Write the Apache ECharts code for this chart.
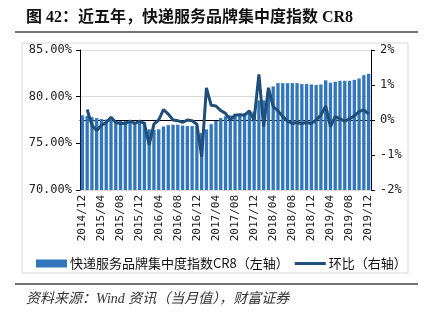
<!DOCTYPE html>
<html><head><meta charset="utf-8">
<script src="https://cdn.jsdelivr.net/npm/echarts@6/dist/echarts.min.js"></script>
<style>html,body{margin:0;padding:0;background:#fff}#c{width:425px;height:323px}</style>
</head><body><div id="c"></div>
<script>
const categories = (function(){
  const out=[];
  out.push('2014/12');
  for(let y=2015;y<=2019;y++){for(let m=1;m<=12;m++){out.push(y+'/'+(m<10?'0'+m:m));}}
  return out;
})();
const cr8 = [78.0,77.95,77.8,77.7,77.6,77.55,77.5,77.4,77.4,77.4,77.4,77.3,77.35,77.3,
  76.5,76.45,76.5,76.8,76.95,77.0,77.0,76.9,76.85,76.85,76.85,76.1,76.5,77.05,77.4,
  77.7,77.9,78.0,78.1,78.2,78.2,78.3,78.4,79.6,79.6,80.6,81.1,81.45,81.45,81.45,81.45,81.45,
  81.35,81.35,81.3,81.25,81.3,81.75,81.5,81.6,81.7,81.7,81.7,81.8,81.95,82.3,82.45];
const mom = [null,0.30,-0.15,-0.30,-0.15,-0.07,0.08,-0.07,-0.10,-0.10,-0.03,-0.10,-0.03,-0.10,
  -0.71,-0.12,0.0,0.30,0.17,0.0,-0.02,-0.07,0.0,-0.02,-0.12,-1.05,0.92,0.42,0.40,
  0.27,0.19,0.0,0.14,0.14,0.14,0.26,0.0,1.30,-0.19,0.92,0.38,0.26,0.10,-0.03,-0.10,-0.07,
  -0.10,-0.07,-0.10,0.0,0.14,0.40,-0.19,0.10,0.03,-0.03,0.03,0.12,0.24,0.29,0.17];
const leftTicks = [70,75,80,85];
const rightTicks = [-2,-1,0,1,2];
const barName = '快递服务品牌集中度指数CR8（左轴）';
const lineName = '环比（右轴）';
const titleText = '图 42：近五年，快递服务品牌集中度指数 CR8';
const sourceText = '资料来源：Wind 资讯（当月值），财富证券';

const chart = echarts.init(document.getElementById('c'), null, {renderer:'canvas'});
const mono = 'DejaVu Sans Mono';
chart.setOption({
  animation:false,
  backgroundColor:'#fff',
  graphic:[
    {type:'text', left:26, top:10, style:{text:titleText, font:'bold 16px "Liberation Serif","Noto Sans CJK SC"', fill:'#111'}},
    {type:'line', shape:{x1:15,y1:32,x2:418,y2:32}, style:{stroke:'#444', lineWidth:1.5}},
    {type:'rect', shape:{x:22,y:43,width:386,height:230}, style:{fill:'none', stroke:'#d9d9d9', lineWidth:1}},
    {type:'line', shape:{x1:15,y1:284,x2:418,y2:284}, style:{stroke:'#444', lineWidth:1.5}},
    {type:'text', left:26, top:292, style:{text:sourceText, font:'italic 14px "Liberation Serif","Noto Sans CJK SC"', fill:'#333'}}
  ],
  legend:{
    left:31, top:252, itemGap:6, itemWidth:31, itemHeight:8,
    textStyle:{fontFamily:'Noto Sans CJK SC', fontSize:13, color:'#111', padding:[0,0,0,-2]},
    data:[{name:barName, icon:'rect'},
          {name:lineName, icon:'path://M0,0M31,8M0,2.5L31,2.5L31,5.5L0,5.5Z'}]
  },
  grid:{left:80, right:54, top:50, bottom:133, containLabel:false},
  xAxis:{
    type:'category', data:categories, boundaryGap:true,
    axisLine:{lineStyle:{color:'#000', width:1}},
    axisTick:{interval:3, length:4, lineStyle:{color:'#000'}},
    axisLabel:{interval:3, rotate:90, fontFamily:mono, fontSize:11, color:'#222', margin:5}
  },
  yAxis:[
    {type:'value', min:leftTicks[0], max:leftTicks[leftTicks.length-1], interval:5,
     axisLine:{show:true, lineStyle:{color:'#000'}},
     axisTick:{show:true, length:4, lineStyle:{color:'#000'}},
     axisLabel:{formatter:v=>v.toFixed(2)+'%', fontFamily:mono, fontSize:12, color:'#222', margin:8},
     splitLine:{show:true, lineStyle:{color:'#d9d9d9'}}},
    {type:'value', min:rightTicks[0], max:rightTicks[rightTicks.length-1], interval:1, position:'right',
     axisLine:{show:true, lineStyle:{color:'#000'}},
     axisTick:{show:true, length:4, lineStyle:{color:'#000'}},
     axisLabel:{formatter:v=>v+'%', fontFamily:mono, fontSize:12, color:'#222', margin:9},
     splitLine:{show:false}}
  ],
  series:[
    {name:barName, type:'bar', data:cr8, yAxisIndex:0, barCategoryGap:'30%',
     itemStyle:{color:'#3277bd'}, z:2},
    {name:lineName, type:'line', data:mom, yAxisIndex:1, symbol:'none', showSymbol:false,
     lineStyle:{color:'#1f4e79', width:3}, itemStyle:{color:'#1f4e79'}, z:3}
  ]
});
</script></body></html>
